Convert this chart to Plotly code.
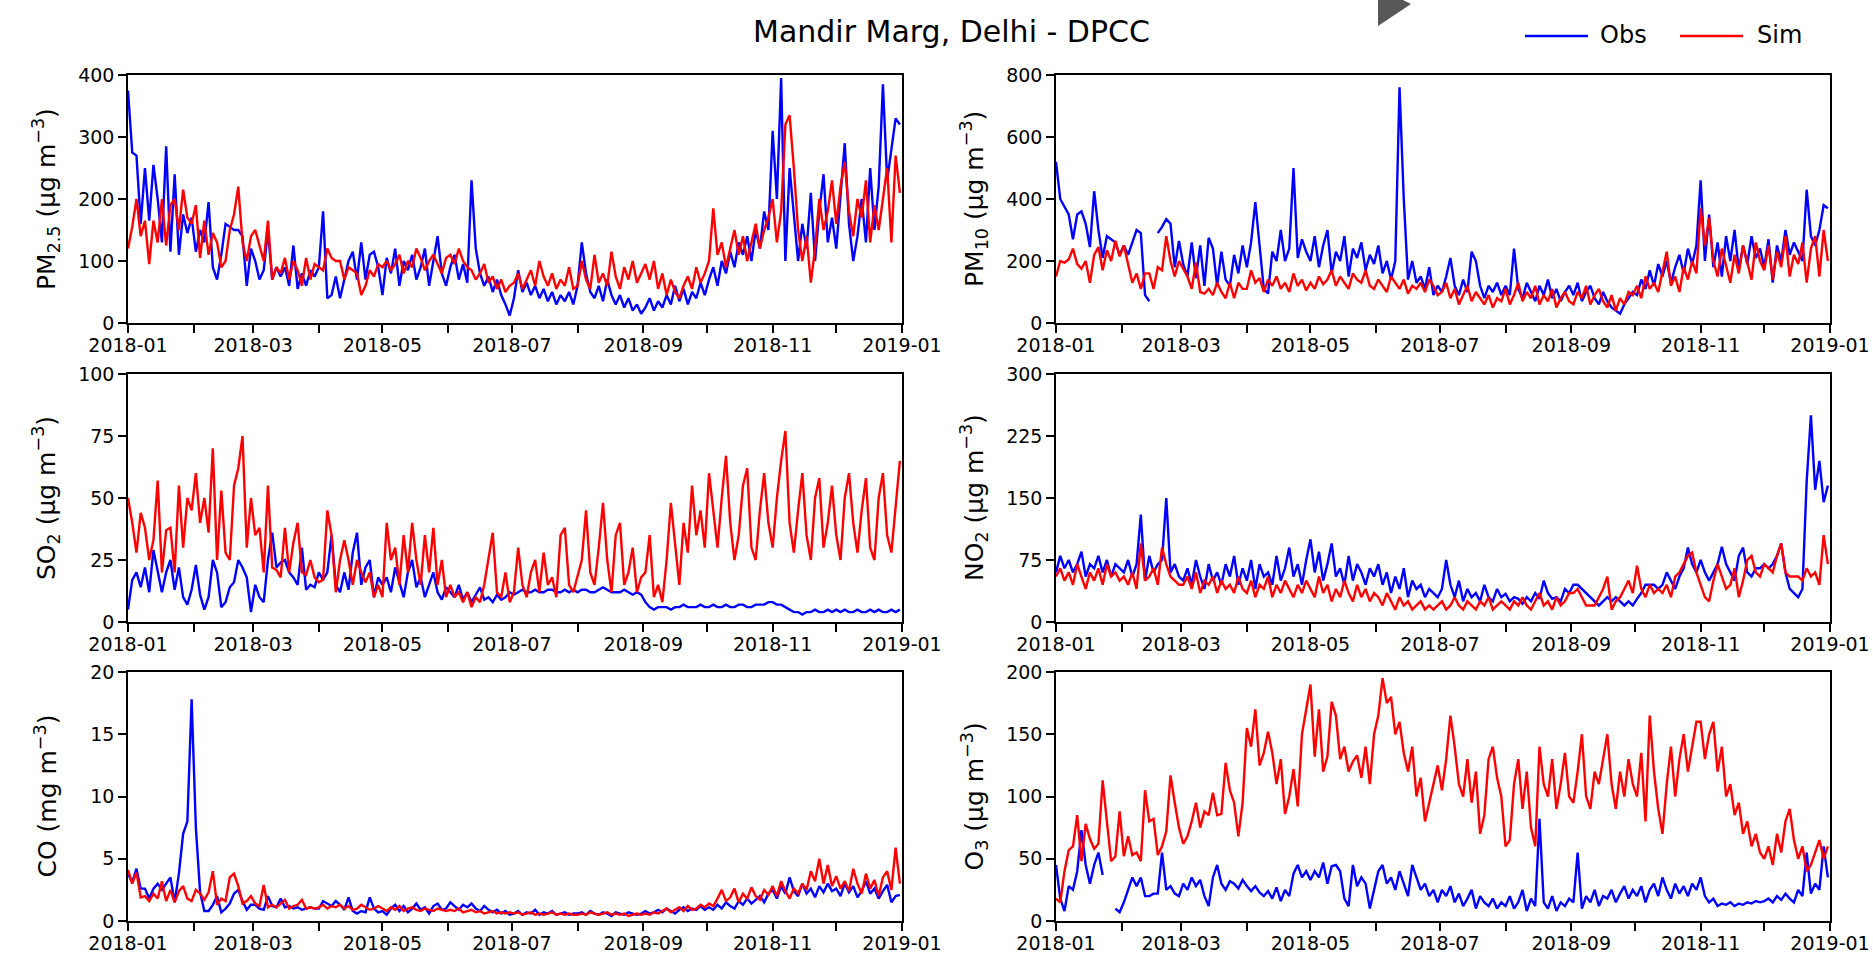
import numpy as np
import pandas as pd
import plotly.graph_objects as go

W, H = 1873, 957
FONT = "DejaVu Sans"

# Daily-resolution series sampled every second day through 2018 (183 points)
dates = pd.date_range("2018-01-01", periods=183, freq="2D")

pm25_obs = [
    375, 275, 270, 160, 250, 165, 255, 200, 130, 285, 115, 240, 110, 175, 145, 170,
    115, 150, 130, 195, 90, 70, 110, 160, 155, 150, 150, 140, 60, 120,
    100, 70, 85, 150, 70, 90, 75, 90, 60, 125, 55, 80, 60, 85, 75,
    90, 180, 40, 45, 75, 40, 70, 100, 115, 70, 130, 70, 110, 115, 90,
    45, 105, 80, 120, 60, 100, 85, 110, 70, 90, 120, 60, 100, 140, 80, 60,
    90, 110, 70, 95, 65, 230, 120, 80, 60, 75, 50, 70, 45, 30, 12,
    40, 85, 50, 65, 45, 60, 40, 55, 35, 50, 30, 45, 35, 50, 30,
    60, 130, 80, 50, 40, 60, 35, 70, 45, 30, 45, 25, 40, 20, 30, 15,
    25, 40, 20, 35, 25, 45, 30, 60, 35, 55, 30, 50, 40, 65, 45,
    70, 90, 60, 100, 80, 115, 90, 130, 110, 140, 100, 150, 120, 180, 150,
    310, 200, 395, 100, 250, 180, 100, 160, 120, 210, 100, 180, 240, 130, 170,
    120, 200, 290, 160, 100, 140, 200, 130, 250, 150, 220, 385, 230, 280, 330, 320,
]
pm25_sim = [
    120, 155, 200, 140, 165, 95, 165, 130, 200, 125, 190, 200, 150, 215, 170, 160,
    190, 105, 165, 110, 145, 130, 90, 100, 150, 175, 220, 130, 100, 140,
    150, 125, 100, 165, 70, 90, 80, 105, 70, 100, 85, 60, 105, 70, 95,
    90, 85, 120, 105, 100, 100, 70, 90, 85, 80, 45, 60, 85, 75, 95,
    90, 100, 85, 95, 110, 80, 100, 90, 120, 105, 85, 100, 110, 95, 80, 105,
    110, 95, 120, 100, 90, 85, 70, 80, 95, 65, 75, 55, 70, 50, 60,
    65, 80, 55, 70, 85, 60, 100, 75, 60, 80, 55, 70, 60, 90, 55,
    60, 100, 70, 55, 110, 65, 80, 60, 115, 75, 55, 90, 70, 100, 65, 80,
    95, 70, 100, 55, 80, 45, 70, 50, 40, 60, 75, 55, 90, 65, 80,
    100, 185, 110, 130, 90, 120, 150, 110, 140, 100, 130, 160, 120, 150, 170,
    200, 130, 180, 320, 335, 250, 150, 100, 140, 65, 120, 200, 150, 180, 230,
    160, 220, 260, 180, 140, 200, 170, 230, 130, 190, 150, 200, 250, 130, 270, 210,
]

pm10_obs = [
    520, 400, 375, 350, 270, 350, 360, 320, 245, 425, 300, 210, 280, 270, 260, 220,
    250, 220, 260, 300, 290, 90, 70, None, 290, 310, 335, 320, 180, 265,
    190, 150, 260, 145, 250, 120, 275, 240, 120, 230, 140, 120, 220, 160, 250,
    180, 260, 390, 250, 110, 95, 230, 200, 300, 200, 240, 500, 210, 270, 230,
    200, 280, 180, 250, 300, 160, 230, 200, 280, 150, 240, 210, 260, 170, 220, 190,
    250, 160, 200, 140, 200, 760, 400, 140, 200, 130, 150, 110, 180, 90, 120,
    100, 150, 210, 120, 90, 140, 100, 230, 200, 120, 80, 120, 100, 130, 90,
    120, 90, 240, 110, 80, 130, 100, 70, 120, 90, 140, 80, 110, 70, 100, 120,
    90, 130, 70, 100, 120, 80, 60, 100, 70, 50, 40, 30, 60, 80, 100,
    90, 140, 110, 170, 120, 190, 150, 200, 130, 180, 220, 160, 240, 190, 250,
    460, 200, 350, 180, 260, 150, 280, 200, 300, 170, 250, 190, 280, 210, 240,
    180, 270, 130, 250, 200, 300, 220, 260, 230, 200, 430, 280, 250, 300, 380, 370,
]
pm10_sim = [
    150, 200, 195, 205, 240, 190, 175, 200, 130, 220, 245, 170, 235, 200, 265, 215,
    250, 190, 130, 160, 110, 160, 160, 110, 180, 170, 280, 200, 150, 200,
    175, 150, 110, 195, 100, 95, 110, 90, 130, 100, 80, 130, 80, 130, 110,
    110, 170, 130, 145, 100, 140, 120, 150, 110, 130, 100, 160, 120, 140, 105,
    130, 110, 150, 125, 140, 170, 120, 150, 130, 110, 160, 140, 130, 170, 120, 110,
    140, 120, 100, 150, 130, 110, 140, 95, 120, 110, 130, 100, 140, 120, 90,
    100, 130, 80, 110, 60, 90, 120, 70, 100, 80, 60, 90, 50, 80, 70,
    110, 60, 90, 130, 70, 100, 80, 120, 60, 90, 70, 110, 50, 80, 100, 70,
    60, 100, 80, 120, 60, 90, 110, 70, 50, 90, 40, 80, 60, 100, 90,
    120, 80, 150, 110, 130, 100, 160, 230, 120, 150, 100, 180, 140, 200, 160,
    370, 250, 340, 200, 150, 240, 180, 130, 220, 160, 250, 190, 140, 260, 200,
    170, 250, 140, 230, 180, 280, 150, 220, 190, 260, 130, 240, 280, 150, 300, 200,
]

so2_obs = [
    5, 17, 20, 14, 22, 12, 29, 20, 12, 20, 25, 13, 22, 10, 7, 13,
    23, 11, 5, 10, 25, 20, 6, 8, 14, 16, 25, 22, 18, 4,
    15, 10, 8, 25, 36, 22, 24, 25, 20, 18, 15, 30, 13, 15, 14,
    20, 17, 20, 35, 15, 12, 20, 13, 28, 36, 15, 22, 25, 10, 18,
    15, 18, 12, 22, 16, 10, 20, 25, 14, 18, 10, 15, 20, 12, 9, 14,
    12, 10, 15, 9, 12, 8, 11, 14, 9, 10, 8, 11, 9, 10, 12,
    11, 12, 13, 12, 12, 13, 12, 12, 13, 13, 12, 12, 13, 12, 13,
    12, 13, 13, 12, 12, 13, 14, 13, 12, 12, 12, 13, 12, 11, 12, 11,
    8, 6, 5, 6, 6, 6, 5, 6, 6, 7, 6, 6, 6, 7, 6,
    6, 7, 6, 6, 7, 6, 6, 7, 7, 6, 6, 7, 7, 7, 8,
    8, 7, 7, 6, 5, 4, 4, 3, 4, 4, 5, 4, 4, 5, 4,
    5, 4, 5, 4, 4, 5, 4, 4, 5, 4, 5, 4, 4, 5, 4, 5,
]
so2_sim = [
    50, 40, 28, 44, 38, 25, 33, 57, 20, 37, 38, 20, 55, 30, 50, 45,
    60, 40, 50, 36, 70, 25, 53, 28, 25, 55, 62, 75, 30, 50,
    35, 38, 20, 55, 22, 21, 18, 38, 20, 32, 40, 20, 19, 25, 18,
    16, 17, 45, 35, 12, 25, 33, 25, 15, 25, 20, 16, 20, 10, 15,
    10, 40, 25, 30, 15, 35, 20, 40, 25, 15, 35, 20, 38, 15, 25, 10,
    15, 10, 12, 8, 12, 6, 10, 8, 15, 25, 36, 12, 10, 20, 8,
    12, 30, 15, 10, 20, 25, 12, 28, 15, 18, 10, 35, 38, 15, 12,
    18, 25, 45, 20, 15, 30, 48, 25, 12, 35, 40, 15, 20, 30, 12, 18,
    20, 35, 10, 15, 8, 25, 48, 30, 15, 40, 28, 55, 35, 45, 30,
    60, 45, 30, 50, 67, 40, 25, 35, 55, 62, 30, 25, 45, 60, 40,
    30, 50, 65, 77, 40, 28, 45, 60, 35, 25, 50, 58, 30, 40, 55,
    35, 25, 50, 60, 40, 28, 45, 58, 30, 25, 50, 60, 35, 28, 45, 65,
]

no2_obs = [
    60, 80, 65, 75, 60, 70, 85, 55, 70, 65, 80, 60, 75, 55, 70, 65,
    60, 75, 55, 70, 130, 50, 80, 60, 70, 75, 150, 60, 70, 55,
    50, 65, 45, 75, 55, 40, 70, 50, 60, 45, 70, 55, 80, 45, 65,
    50, 75, 40, 70, 55, 60, 45, 80, 50, 65, 90, 55, 70, 45, 75,
    100, 60, 85, 50, 70, 95, 55, 65, 45, 80, 50, 70, 60, 45, 65, 55,
    70, 45, 60, 35, 55, 40, 65, 30, 50, 40, 45, 30, 40, 35, 30,
    40, 75, 45, 30, 50, 25, 40, 30, 35, 25, 45, 30, 25, 40, 30,
    34, 25, 30, 28, 22, 30, 25, 35, 28, 50, 35, 28, 30, 25, 40, 35,
    45, 45, 40, 35, 30, 25, 20, 25, 30, 25, 30, 25, 20, 25, 20,
    28, 35, 45, 45, 45, 40, 45, 60, 50, 40, 55, 65, 90, 70, 60,
    75, 60, 50, 60, 70, 91, 70, 60, 50, 80, 90, 60, 55, 65, 65,
    70, 65, 70, 80, 95, 60, 40, 35, 30, 40, 170, 250, 160, 195, 145, 165,
]
no2_sim = [
    55, 65, 50, 60, 45, 70, 55, 40, 60, 50, 65, 45, 70, 55, 60, 50,
    55, 45, 60, 40, 95, 50, 55, 65, 45, 90, 70, 55, 50, 45,
    45, 55, 40, 60, 35, 50, 45, 55, 35, 50, 40, 45, 35, 55, 40,
    35, 50, 30, 45, 40, 55, 30, 45, 35, 50, 40, 30, 45, 35, 50,
    40, 30, 55, 35, 45, 25, 40, 30, 50, 35, 25, 45, 30, 40, 25, 35,
    30, 20, 35, 25, 15, 30, 20, 25, 15, 20, 25, 15, 20, 15, 20,
    25, 15, 20, 30, 20, 15, 25, 20, 15, 25, 20, 30, 15, 20, 25,
    20, 15, 25, 20, 30, 20, 15, 25, 35, 20, 25, 15, 30, 20, 25, 35,
    35, 40, 30, 20, 20, 20, 30, 40, 55, 15, 25, 30, 40, 50, 35,
    68, 40, 30, 45, 35, 40, 35, 45, 30, 55, 60, 70, 80, 84, 60,
    45, 30, 25, 50, 70, 55, 40, 45, 65, 30, 50, 75, 80, 60, 55,
    70, 65, 60, 80, 95, 60, 55, 55, 55, 50, 65, 55, 60, 45, 105, 70,
]

co_obs = [
    3.8, 3.1, 4.2, 2.6, 2.6, 1.8, 2.6, 3.0, 2.5, 3.0, 3.5, 1.5, 3.8, 7.0, 8.0, 17.8,
    7.5, 2.3, 0.8, 0.8, 1.3, 2.0, 0.7, 1.0, 1.4, 2.2, 2.5, 1.6, 0.9, 1.3,
    1.3, 1.0, 0.9, 2.0, 1.2, 1.1, 1.8, 1.1, 1.2, 1.0, 1.1, 0.9, 1.0, 1.1, 1.0,
    1.0, 1.6, 1.4, 1.2, 1.6, 1.3, 0.9, 1.9, 0.8, 0.6, 0.8, 0.7, 1.9, 1.0, 0.7,
    0.8, 0.5, 1.0, 1.3, 0.8, 1.2, 0.7, 1.0, 1.4, 0.9, 1.1, 0.6, 1.2, 1.4, 0.9, 1.0,
    1.5, 1.2, 0.9, 1.3, 1.1, 1.4, 1.0, 0.8, 1.2, 0.9, 0.7, 0.9, 0.6, 0.8, 0.5,
    0.6, 0.8, 0.5, 0.7, 0.6, 0.9, 0.5, 0.7, 0.6, 0.8, 0.5, 0.6, 0.7, 0.5, 0.6,
    0.6, 0.7, 0.5, 0.8, 0.6, 0.5, 0.7, 0.6, 0.4, 0.7, 0.6, 0.5, 0.7, 0.6, 0.5, 0.6,
    0.8, 0.6, 0.7, 0.9, 0.7, 1.0, 0.8, 0.6, 0.9, 1.1, 0.8, 1.0, 0.9, 1.2, 0.9,
    1.1, 0.9, 1.3, 1.0, 1.5, 1.2, 1.0, 1.6, 1.3, 1.8, 1.4, 1.7, 2.0, 1.5, 2.2,
    2.5, 1.8, 2.8, 2.2, 3.5, 2.4, 2.0, 3.0, 2.2, 2.6, 1.9, 2.8, 2.3, 3.0, 2.4,
    2.6, 2.0, 3.0, 2.3, 2.8, 1.9, 2.4, 3.2, 2.2, 2.6, 1.8, 2.4, 2.9, 1.5, 2.0, 2.1,
]
co_sim = [
    4.1, 3.0, 3.9, 1.9, 2.0, 1.6, 2.2, 1.8, 3.2, 1.6, 2.5, 1.5, 2.4, 2.8, 1.8, 1.6,
    2.5, 2.2, 1.7, 2.3, 4.0, 1.3, 1.8, 1.6, 3.5, 3.8, 2.8, 1.4, 1.6, 2.0,
    1.4, 1.2, 2.9, 1.1, 1.3, 1.1, 1.4, 1.7, 1.0, 1.2, 1.3, 1.7, 1.0, 1.1, 1.0,
    1.1, 1.3, 1.0, 1.2, 1.1, 1.3, 1.0, 1.2, 0.9, 1.0, 1.3, 1.1, 0.9, 1.0, 1.2,
    1.0, 0.8, 1.1, 0.9, 1.2, 0.8, 1.0, 1.1, 0.9, 0.8, 1.0, 0.9, 0.8, 1.0, 0.9, 0.8,
    0.9, 0.8, 1.0, 0.7, 0.8, 0.9, 0.7, 0.8, 0.6, 0.7, 0.8, 0.6, 0.7, 0.6, 0.7,
    0.6, 0.7, 0.5, 0.6, 0.7, 0.5, 0.6, 0.5, 0.6, 0.7, 0.5, 0.6, 0.5, 0.6, 0.5,
    0.5, 0.6, 0.5, 0.7, 0.6, 0.5, 0.6, 0.7, 0.5, 0.6, 0.5, 0.6, 0.4, 0.5, 0.6, 0.5,
    0.6, 0.5, 0.7, 0.6, 0.8, 1.0, 0.7, 0.9, 1.1, 0.8, 1.2, 0.9, 1.0, 1.3, 1.1,
    1.4, 1.2, 1.8, 2.5, 1.6, 1.9, 2.6, 1.5, 2.2, 1.8, 2.7, 2.0, 1.7, 2.5, 2.1,
    2.8, 2.0, 3.2, 2.4, 1.8, 2.6, 2.2, 3.0, 2.5, 4.0, 3.2, 5.0, 3.0, 4.5, 2.8,
    3.6, 2.6, 3.2, 2.4, 4.2, 3.0, 2.2, 3.8, 2.6, 3.3, 2.0, 3.5, 4.0, 2.5, 5.9, 3.0,
]

o3_obs = [
    45, 18, 8, 28, 25, 40, 73, 45, 30, 45, 55, 37, None, None, 10, 7,
    15, 25, 35, 28, 35, 20, 20, 22, 22, 55, 25, 28, 22, 20,
    30, 25, 35, 28, 33, 20, 12, 35, 45, 30, 25, 32, 30, 26, 33,
    28, 24, 28, 23, 20, 24, 18, 27, 16, 25, 20, 38, 45, 35, 40,
    33, 40, 35, 47, 30, 44, 45, 40, 18, 12, 45, 28, 35, 30, 10, 25,
    40, 45, 30, 35, 25, 40, 30, 20, 45, 35, 25, 30, 20, 25, 15,
    25, 20, 28, 15, 22, 12, 18, 25, 10, 20, 15, 12, 18, 10, 15,
    12, 20, 10, 15, 25, 8, 18, 12, 82, 15, 10, 20, 8, 15, 12, 18,
    15, 55, 10, 20, 15, 25, 12, 20, 18, 25, 15, 22, 28, 18, 25,
    20, 28, 15, 25, 30, 20, 35, 25, 18, 30, 22, 28, 20, 30, 25,
    35, 20, 15, 18, 12, 14, 13, 15, 12, 14, 13, 15, 14, 16, 15,
    16, 18, 15, 20, 17, 22, 18, 15, 25, 20, 55, 22, 30, 25, 60, 35,
]
o3_sim = [
    18, 15, 40, 57, 60, 85, 48, 78, 66, 58, 62, 113, 80, 48, 52, 88,
    52, 68, 53, 55, 48, 105, 80, 82, 53, 60, 72, 117, 95, 75,
    62, 68, 80, 95, 75, 88, 85, 103, 85, 86, 127, 105, 95, 68, 95,
    155, 140, 170, 125, 135, 152, 135, 110, 130, 86, 100, 122, 92, 150, 170,
    190, 132, 170, 120, 132, 176, 165, 130, 140, 120, 128, 133, 115, 140, 110, 150,
    165, 195, 175, 180, 150, 160, 135, 120, 140, 100, 115, 80, 95, 110, 125,
    105, 130, 165, 140, 110, 100, 130, 95, 120, 70, 85, 130, 140, 115, 100,
    60, 65, 110, 130, 90, 120, 75, 60, 140, 110, 100, 130, 90, 110, 135, 100,
    95, 120, 150, 100, 90, 120, 110, 130, 150, 110, 90, 120, 100, 130, 110,
    100, 135, 80, 165, 120, 90, 70, 110, 140, 100, 130, 150, 120, 140, 160,
    160, 130, 150, 160, 120, 140, 100, 110, 85, 95, 70, 80, 60, 70, 55,
    50, 60, 45, 70, 55, 80, 90, 65, 50, 60, 40, 45, 55, 65, 50, 60,
]

panel_labels = [
    "PM<sub>2.5</sub> (µg m<sup>−3</sup>)",
    "PM<sub>10</sub> (µg m<sup>−3</sup>)",
    "SO<sub>2</sub> (µg m<sup>−3</sup>)",
    "NO<sub>2</sub> (µg m<sup>−3</sup>)",
    "CO (mg m<sup>−3</sup>)",
    "O<sub>3</sub> (µg m<sup>−3</sup>)",
]
obs_series = [pm25_obs, pm10_obs, so2_obs, no2_obs, co_obs, o3_obs]
sim_series = [pm25_sim, pm10_sim, so2_sim, no2_sim, co_sim, o3_sim]
y_ticks = [
    [0, 100, 200, 300, 400],
    [0, 200, 400, 600, 800],
    [0, 25, 50, 75, 100],
    [0, 75, 150, 225, 300],
    [0, 5, 10, 15, 20],
    [0, 50, 100, 150, 200],
]

month_ticks = pd.date_range("2018-01-01", "2019-01-01", freq="MS")
month_text = [d.strftime("%Y-%m") if d.month % 2 == 1 else "" for d in month_ticks]

# Pixel boxes of the six panels (left, right) x (top, bottom)
col_px = [(128, 902), (1056, 1830)]
row_px = [(75, 323), (374, 622), (672, 921)]


def px(x):
    return x / W


def py(y):
    return 1 - y / H


fig = go.Figure()
layout = dict(
    width=W, height=H, autosize=False,
    margin=dict(l=0, r=0, t=0, b=0, pad=0),
    paper_bgcolor="white", plot_bgcolor="white",
    showlegend=False,
    font=dict(family=FONT, size=19, color="black"),
    annotations=[], shapes=[],
)

axis_style = dict(
    showline=True, linecolor="black", linewidth=1.6, mirror=True,
    ticks="outside", ticklen=8, tickwidth=1.5, tickcolor="black",
    showgrid=False, zeroline=False, automargin=False,
    tickfont=dict(family=FONT, size=19, color="black"),
)

LINE_W = 2.4

for i in range(6):
    r, c = divmod(i, 2)
    n = i + 1
    xa = "x" if n == 1 else f"x{n}"
    ya = "y" if n == 1 else f"y{n}"
    x0, x1 = col_px[c]
    y0, y1 = row_px[r]

    obs = np.array(obs_series[i], dtype=float)
    sim = np.array(sim_series[i], dtype=float)
    fig.add_trace(go.Scatter(x=dates[:len(obs)], y=obs, mode="lines", name="Obs",
                             line=dict(color="#0000ff", width=LINE_W),
                             xaxis=xa, yaxis=ya))
    fig.add_trace(go.Scatter(x=dates[:len(sim)], y=sim, mode="lines", name="Sim",
                             line=dict(color="#ff0000", width=LINE_W),
                             xaxis=xa, yaxis=ya))

    yt = y_ticks[i]
    layout[f"xaxis{'' if n == 1 else n}"] = dict(
        axis_style, domain=[px(x0), px(x1)], anchor=ya,
        type="date", range=["2018-01-01", "2019-01-01"],
        tickmode="array", tickvals=list(month_ticks), ticktext=month_text,
        ticklabelstandoff=-4,
    )
    layout[f"yaxis{'' if n == 1 else n}"] = dict(
        axis_style, domain=[py(y1), py(y0)], anchor=xa,
        range=[yt[0], yt[-1]], tickmode="array", tickvals=yt,
        ticktext=[str(v) for v in yt],
    )
    layout["annotations"].append(dict(
        text=panel_labels[i], textangle=-90, showarrow=False,
        xref="paper", yref="paper", x=px(x0 - 82), y=py((y0 + y1) / 2),
        xanchor="center", yanchor="middle",
        font=dict(family=FONT, size=25, color="black"),
    ))

# Figure title
layout["annotations"].append(dict(
    text="Mandir Marg, Delhi - DPCC", showarrow=False,
    xref="paper", yref="paper", x=px(951), y=py(32),
    xanchor="center", yanchor="middle",
    font=dict(family=FONT, size=30, color="black"),
))

# Legend drawn at the top right
legend_items = [("Obs", "#0000ff", 1525, 1588, 1598), ("Sim", "#ff0000", 1680, 1743, 1755)]
for name, color, lx0, lx1, tx in legend_items:
    layout["shapes"].append(dict(
        type="line", xref="paper", yref="paper",
        x0=px(lx0), x1=px(lx1), y0=py(36), y1=py(36),
        line=dict(color=color, width=LINE_W),
    ))
    layout["annotations"].append(dict(
        text=name, showarrow=False, xref="paper", yref="paper",
        x=px(tx), y=py(35), xanchor="left", yanchor="middle",
        font=dict(family=FONT, size=24, color="black"),
    ))

# Dark pointer glyph at the top edge
tri = [(1378, 0), (1403, 0), (1411, 4), (1378, 26)]
path = "M " + " L ".join(f"{px(x):.5f},{py(y):.5f}" for x, y in tri) + " Z"
layout["shapes"].append(dict(
    type="path", xref="paper", yref="paper", path=path,
    fillcolor="#575757", line=dict(width=0),
))

fig.update_layout(**layout)
fig.write_html("out.html")
